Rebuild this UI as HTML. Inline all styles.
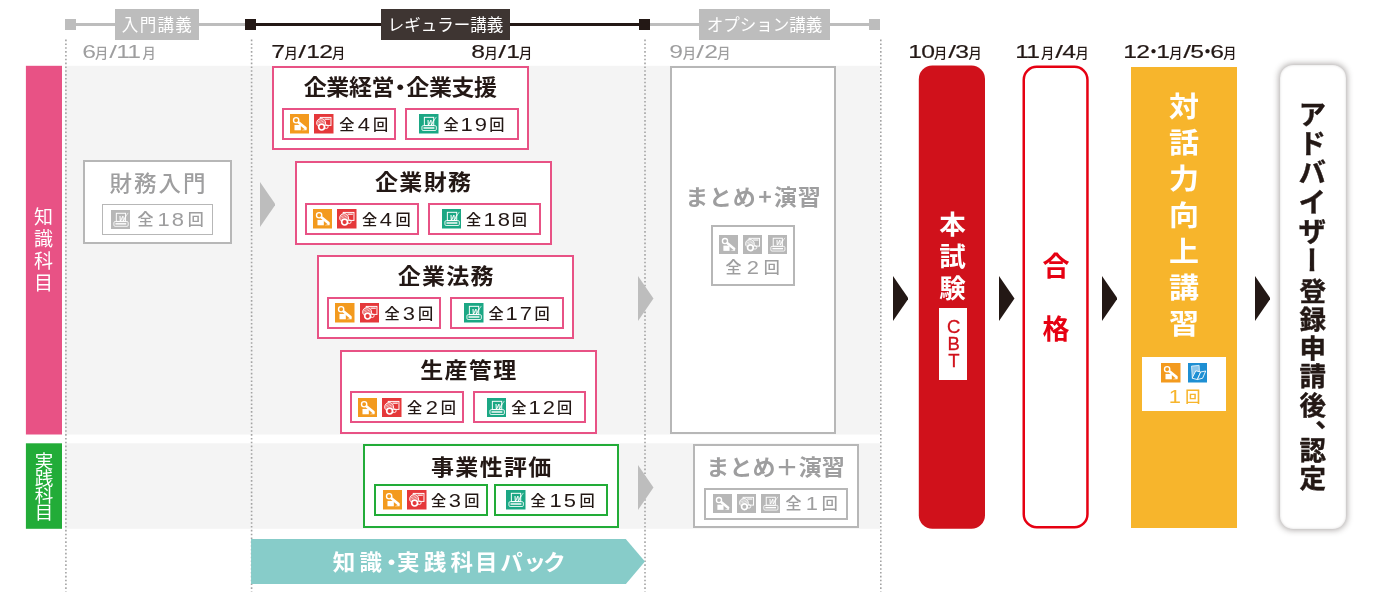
<!DOCTYPE html>
<html lang="ja"><head><meta charset="utf-8"><title></title>
<style>
*{margin:0;padding:0;box-sizing:border-box}
html,body{width:1380px;height:600px;background:#fff;overflow:hidden}
body{position:relative;font-family:"Liberation Sans","Noto Sans CJK JP",sans-serif;color:#231815}
div,span,svg{position:absolute}
.ic{display:block}
.side{color:#fff;font-family:"Noto Sans CJK JP",sans-serif;font-weight:400;writing-mode:vertical-rl;text-align:left;white-space:nowrap}
.tl{height:31px;top:9px;color:#fff;font-family:"Noto Sans CJK JP",sans-serif;font-weight:400;font-size:16.5px;line-height:31px;text-align:center;white-space:nowrap}
.sq{width:11px;height:11px;top:19px}
.ln{height:3.5px;top:22.6px}
.date{top:40px;height:24px;line-height:24px;font-size:19px;white-space:nowrap;display:flex;align-items:baseline}
.date>*{position:static;display:block;flex:none}
.date i{font-style:normal;font-family:"Noto Sans CJK JP",sans-serif;font-size:13.3px;font-weight:500;width:12px;text-indent:-.6px;text-align:center;-webkit-text-stroke:0}
.date .d{transform-origin:0 50%;transform:translateX(-.8px) scaleX(1.3);letter-spacing:-.57px}
.date .sl{width:9.5px;transform-origin:0 50%;transform:translateX(1.2px) scaleX(1.45)}
.date .dt{width:6.5px;font-family:"Noto Sans CJK JP",sans-serif;font-weight:700;font-size:17px;text-indent:-5.25px;-webkit-text-stroke:0}
.dk{color:#231815;-webkit-text-stroke:.18px #231815}
.gy{color:#9E9E9F}
.box{background:#fff;border:2px solid;width:257px;height:84px}
.ttl{left:0;right:0;text-align:center;font-family:"Noto Sans CJK JP",sans-serif;font-weight:700;font-size:23px;line-height:30px;white-space:nowrap;letter-spacing:1.3px;text-indent:1.3px;transform:scaleY(.945);transform-origin:50% 60%}
.ib{border:2px solid;background:#fff}
.cnt{font-family:"Liberation Sans","Noto Sans CJK JP",sans-serif;font-weight:500;font-size:15.2px;line-height:20px;height:20px;white-space:nowrap;display:flex;justify-content:space-between;align-items:center}
.cnt .d{position:static;display:inline-block;font-family:"Liberation Sans",sans-serif;font-weight:400;font-size:18px;transform:translateY(-.3px) scaleX(1.22);letter-spacing:1.8px;text-indent:1.8px}
.v{writing-mode:vertical-rl;font-family:"Noto Sans CJK JP",sans-serif;font-weight:700;white-space:nowrap;text-align:left}
</style></head><body><div id="stage" style="left:0;top:0;width:1380px;height:600px;will-change:transform">

<svg style="left:0;top:0;width:1380px;height:600px" viewBox="0 0 1380 600">
<rect x="65" y="65.8" width="815" height="368.7" fill="#F4F4F4"/>
<rect x="65" y="443.3" width="815" height="85.5" fill="#F4F4F4"/>
<rect x="25.9" y="65.8" width="36.1" height="368.7" fill="#E85285"/>
<rect x="25.9" y="443.3" width="36.1" height="85.5" fill="#22AC38"/>
<line x1="65.9" y1="39.6" x2="65.9" y2="591.5" stroke="#A3A3A3" stroke-width="1.6" stroke-dasharray="1.6 2.23"/>
<line x1="251.6" y1="39.6" x2="251.6" y2="591.5" stroke="#A3A3A3" stroke-width="1.6" stroke-dasharray="1.6 2.23"/>
<line x1="645" y1="39.6" x2="645" y2="591.5" stroke="#A3A3A3" stroke-width="1.6" stroke-dasharray="1.6 2.23"/>
<line x1="880.8" y1="39.6" x2="880.8" y2="591.5" stroke="#A3A3A3" stroke-width="1.6" stroke-dasharray="1.6 2.23"/>
</svg>
<div class="side" style="left:26px;width:35px;top:206.5px;font-size:19px;line-height:35px;letter-spacing:3.2px">知識科目</div>
<div class="side" style="left:26px;width:35px;top:452px;font-size:18.5px;line-height:35px;letter-spacing:-1.5px">実践科目</div>
<div class="ln" style="left:70px;width:180px;background:#BDBDBD"></div>
<div class="ln" style="left:250px;width:394px;background:#231815"></div>
<div class="ln" style="left:644px;width:230px;background:#BDBDBD"></div>
<div class="sq" style="left:65px;background:#BDBDBD"></div>
<div class="sq" style="left:245px;background:#231815"></div>
<div class="sq" style="left:638.7px;background:#231815"></div>
<div class="sq" style="left:868.8px;background:#BDBDBD"></div>
<div class="tl" style="left:114.7px;width:84.2px;background:#BDBDBD;letter-spacing:1.3px;text-indent:1.3px">入門講義</div>
<div class="tl" style="left:381px;width:129px;background:#3E3532">レギュラー講義</div>
<div class="tl" style="left:699.3px;width:130.4px;background:#BDBDBD">オプション講義</div>
<div class="date gy" style="left:82.7px;"><span class="d" style="width:13px">6</span><i>月</i><span class="sl">/</span><span class="d" style="width:26px">11</span><i>月</i></div>
<div class="date dk" style="left:272px;"><span class="d" style="width:13px">7</span><i>月</i><span class="sl">/</span><span class="d" style="width:26px">12</span><i>月</i></div>
<div class="date dk" style="left:472px;"><span class="d" style="width:13px">8</span><i>月</i><span class="sl">/</span><span class="d" style="width:13px">1</span><i>月</i></div>
<div class="date gy" style="left:670.4px;"><span class="d" style="width:13px">9</span><i>月</i><span class="sl">/</span><span class="d" style="width:13px">2</span><i>月</i></div>
<div class="date dk" style="left:908.6px;"><span class="d" style="width:26px">10</span><i>月</i><span class="sl">/</span><span class="d" style="width:13px">3</span><i>月</i></div>
<div class="date dk" style="left:1015.6px;"><span class="d" style="width:26px">11</span><i>月</i><span class="sl">/</span><span class="d" style="width:13px">4</span><i>月</i></div>
<div class="date dk" style="left:1124.3px; top:39px;"><span class="d" style="width:26px">12</span><span class="dt">・</span><span class="d" style="width:13px">1</span><i>月</i><span class="sl">/</span><span class="d" style="width:13px">5</span><span class="dt">・</span><span class="d" style="width:13px">6</span><i>月</i></div>
<div class="box" style="left:83px;top:160px;width:149px;height:84.3px;border-color:#B7B7B7"><div class="ttl" style="top:3.8px;color:#9E9E9F;font-weight:500;letter-spacing:2px;text-indent:2px;font-size:22.5px">財務入門</div><div class="ib" style="left:17px;top:41.7px;width:111px;height:31px;border:1px solid #B7B7B7"></div><svg class="ic" style="left:25.8px;top:47.7px;width:19.3px;height:19.3px" viewBox="0 0 20 20"><rect width="20" height="20" fill="#B7B7B7"/><rect x="5.5" y="3.4" width="9.6" height="8.4" fill="none" stroke="#fff" stroke-width="1"/><text x="8.3" y="11" font-family="'Liberation Sans',sans-serif" font-weight="700" font-style="italic" font-size="7.4" fill="#fff">W</text><path d="M14.6 7.6 L17.8 3" stroke="#fff" stroke-width=".7"/><rect x="3" y="12" width="14.8" height="4.9" rx="1.2" fill="none" stroke="#fff" stroke-width=".9"/><rect x="4.6" y="13.6" width="11.2" height="1.5" fill="#fff"/></svg><div class="cnt" style="left:52.6px;top:47.5px;width:66.2px;color:#9E9E9F;font-size:16px">全<span class="d d2">18</span>回</div></div>
<svg style="left:259.7px;top:182.2px;width:15.5px;height:45px" viewBox="0 0 15.5 45"><path d="M0 0 L15.5 22.5 L0 45 Z" fill="#BDBDBD"/></svg>
<svg style="left:638px;top:275.5px;width:15.5px;height:45px" viewBox="0 0 15.5 45"><path d="M0 0 L15.5 22.5 L0 45 Z" fill="#BDBDBD"/></svg>
<svg style="left:638px;top:465px;width:15.5px;height:45px" viewBox="0 0 15.5 45"><path d="M0 0 L15.5 22.5 L0 45 Z" fill="#BDBDBD"/></svg>
<svg style="left:892.7px;top:275.5px;width:15.5px;height:45px" viewBox="0 0 15.5 45"><path d="M0 0 L15.5 22.5 L0 45 Z" fill="#231815"/></svg>
<svg style="left:999px;top:275.5px;width:15.5px;height:45px" viewBox="0 0 15.5 45"><path d="M0 0 L15.5 22.5 L0 45 Z" fill="#231815"/></svg>
<svg style="left:1101.5px;top:275.5px;width:15.5px;height:45px" viewBox="0 0 15.5 45"><path d="M0 0 L15.5 22.5 L0 45 Z" fill="#231815"/></svg>
<svg style="left:1254.5px;top:275.5px;width:15.5px;height:45px" viewBox="0 0 15.5 45"><path d="M0 0 L15.5 22.5 L0 45 Z" fill="#231815"/></svg>
<div class="box" style="left:271.90px;top:66.0px;width:257px;border-color:#E85285"><div class="ttl" style="top:1.9px;letter-spacing:-.4px;text-indent:-.4px;">企業経営<span style="position:static;display:inline-block;width:12.2px;text-align:center;letter-spacing:0;text-indent:-5.4px">・</span>企業支援</div><div class="ib" style="left:8.4px;top:39.8px;width:113.8px;height:32px;border-color:#E85285"></div><div class="ib" style="left:131.2px;top:39.8px;width:113.6px;height:32px;border-color:#E85285"></div><svg class="ic" style="left:16px;top:46.099999999999994px;width:19.5px;height:19.5px" viewBox="0 0 20 20"><rect width="20" height="20" fill="#F39A1E"/><circle cx="6.3" cy="6.4" r="2.7" fill="none" stroke="#fff" stroke-width="1.4"/><path d="M8.9 8.8 L15.9 14.5" stroke="#fff" stroke-width="2.7" stroke-linecap="round" fill="none"/><rect x="4.6" y="11.2" width="6.5" height="5.5" fill="#fff"/><path d="M11.8 16.7 H17 L17 15.2 Z" fill="#fff"/></svg><svg class="ic" style="left:40.5px;top:46.099999999999994px;width:19.5px;height:19.5px" viewBox="0 0 20 20"><rect width="20" height="20" fill="#E5383A"/><rect x="6.4" y="3.5" width="11" height="8.2" fill="none" stroke="#fff" stroke-width="1"/><path d="M10.6 5.3 H16.2" stroke="#fff" stroke-width="1.2"/><circle cx="7.3" cy="9.2" r="5" fill="#E5383A"/><circle cx="7.3" cy="9.2" r="4.6" fill="#fff" fill-opacity=".35" stroke="#fff" stroke-width=".9"/><path d="M3.9 7.2 L10.8 11.4 M5.6 5.4 L12 10" stroke="#fff" stroke-width=".7" stroke-dasharray="1 .7"/><circle cx="7.8" cy="13.4" r="4.3" fill="#E5383A"/><circle cx="7.8" cy="13.4" r="3" fill="none" stroke="#fff" stroke-width="1.7"/><circle cx="12.6" cy="13" r="1.9" fill="none" stroke="#fff" stroke-width=".9"/></svg><svg class="ic" style="left:145.2px;top:46.099999999999994px;width:19.5px;height:19.5px" viewBox="0 0 20 20"><rect width="20" height="20" fill="#1BA784"/><rect x="5.5" y="3.4" width="9.6" height="8.4" fill="none" stroke="#fff" stroke-width="1"/><text x="8.3" y="11" font-family="'Liberation Sans',sans-serif" font-weight="700" font-style="italic" font-size="7.4" fill="#fff">W</text><path d="M14.6 7.6 L17.8 3" stroke="#fff" stroke-width=".7"/><rect x="3" y="12" width="14.8" height="4.9" rx="1.2" fill="none" stroke="#fff" stroke-width=".9"/><rect x="4.6" y="13.6" width="11.2" height="1.5" fill="#fff"/></svg><div class="cnt" style="left:65.4px;top:46.599999999999994px;width:48.8px">全<span class="d d1">4</span>回</div><div class="cnt" style="left:169.5px;top:46.599999999999994px;width:61px">全<span class="d d2">19</span>回</div></div>
<div class="box" style="left:294.50px;top:161.0px;width:257px;border-color:#E85285"><div class="ttl" style="top:1.9px;">企業財務</div><div class="ib" style="left:8.4px;top:39.8px;width:113.8px;height:32px;border-color:#E85285"></div><div class="ib" style="left:131.2px;top:39.8px;width:113.6px;height:32px;border-color:#E85285"></div><svg class="ic" style="left:16px;top:46.099999999999994px;width:19.5px;height:19.5px" viewBox="0 0 20 20"><rect width="20" height="20" fill="#F39A1E"/><circle cx="6.3" cy="6.4" r="2.7" fill="none" stroke="#fff" stroke-width="1.4"/><path d="M8.9 8.8 L15.9 14.5" stroke="#fff" stroke-width="2.7" stroke-linecap="round" fill="none"/><rect x="4.6" y="11.2" width="6.5" height="5.5" fill="#fff"/><path d="M11.8 16.7 H17 L17 15.2 Z" fill="#fff"/></svg><svg class="ic" style="left:40.5px;top:46.099999999999994px;width:19.5px;height:19.5px" viewBox="0 0 20 20"><rect width="20" height="20" fill="#E5383A"/><rect x="6.4" y="3.5" width="11" height="8.2" fill="none" stroke="#fff" stroke-width="1"/><path d="M10.6 5.3 H16.2" stroke="#fff" stroke-width="1.2"/><circle cx="7.3" cy="9.2" r="5" fill="#E5383A"/><circle cx="7.3" cy="9.2" r="4.6" fill="#fff" fill-opacity=".35" stroke="#fff" stroke-width=".9"/><path d="M3.9 7.2 L10.8 11.4 M5.6 5.4 L12 10" stroke="#fff" stroke-width=".7" stroke-dasharray="1 .7"/><circle cx="7.8" cy="13.4" r="4.3" fill="#E5383A"/><circle cx="7.8" cy="13.4" r="3" fill="none" stroke="#fff" stroke-width="1.7"/><circle cx="12.6" cy="13" r="1.9" fill="none" stroke="#fff" stroke-width=".9"/></svg><svg class="ic" style="left:145.2px;top:46.099999999999994px;width:19.5px;height:19.5px" viewBox="0 0 20 20"><rect width="20" height="20" fill="#1BA784"/><rect x="5.5" y="3.4" width="9.6" height="8.4" fill="none" stroke="#fff" stroke-width="1"/><text x="8.3" y="11" font-family="'Liberation Sans',sans-serif" font-weight="700" font-style="italic" font-size="7.4" fill="#fff">W</text><path d="M14.6 7.6 L17.8 3" stroke="#fff" stroke-width=".7"/><rect x="3" y="12" width="14.8" height="4.9" rx="1.2" fill="none" stroke="#fff" stroke-width=".9"/><rect x="4.6" y="13.6" width="11.2" height="1.5" fill="#fff"/></svg><div class="cnt" style="left:65.4px;top:46.599999999999994px;width:48.8px">全<span class="d d1">4</span>回</div><div class="cnt" style="left:169.5px;top:46.599999999999994px;width:61px">全<span class="d d2">18</span>回</div></div>
<div class="box" style="left:317.10px;top:255.0px;width:257px;border-color:#E85285"><div class="ttl" style="top:1.9px;">企業法務</div><div class="ib" style="left:8.4px;top:39.8px;width:113.8px;height:32px;border-color:#E85285"></div><div class="ib" style="left:131.2px;top:39.8px;width:113.6px;height:32px;border-color:#E85285"></div><svg class="ic" style="left:16px;top:46.099999999999994px;width:19.5px;height:19.5px" viewBox="0 0 20 20"><rect width="20" height="20" fill="#F39A1E"/><circle cx="6.3" cy="6.4" r="2.7" fill="none" stroke="#fff" stroke-width="1.4"/><path d="M8.9 8.8 L15.9 14.5" stroke="#fff" stroke-width="2.7" stroke-linecap="round" fill="none"/><rect x="4.6" y="11.2" width="6.5" height="5.5" fill="#fff"/><path d="M11.8 16.7 H17 L17 15.2 Z" fill="#fff"/></svg><svg class="ic" style="left:40.5px;top:46.099999999999994px;width:19.5px;height:19.5px" viewBox="0 0 20 20"><rect width="20" height="20" fill="#E5383A"/><rect x="6.4" y="3.5" width="11" height="8.2" fill="none" stroke="#fff" stroke-width="1"/><path d="M10.6 5.3 H16.2" stroke="#fff" stroke-width="1.2"/><circle cx="7.3" cy="9.2" r="5" fill="#E5383A"/><circle cx="7.3" cy="9.2" r="4.6" fill="#fff" fill-opacity=".35" stroke="#fff" stroke-width=".9"/><path d="M3.9 7.2 L10.8 11.4 M5.6 5.4 L12 10" stroke="#fff" stroke-width=".7" stroke-dasharray="1 .7"/><circle cx="7.8" cy="13.4" r="4.3" fill="#E5383A"/><circle cx="7.8" cy="13.4" r="3" fill="none" stroke="#fff" stroke-width="1.7"/><circle cx="12.6" cy="13" r="1.9" fill="none" stroke="#fff" stroke-width=".9"/></svg><svg class="ic" style="left:145.2px;top:46.099999999999994px;width:19.5px;height:19.5px" viewBox="0 0 20 20"><rect width="20" height="20" fill="#1BA784"/><rect x="5.5" y="3.4" width="9.6" height="8.4" fill="none" stroke="#fff" stroke-width="1"/><text x="8.3" y="11" font-family="'Liberation Sans',sans-serif" font-weight="700" font-style="italic" font-size="7.4" fill="#fff">W</text><path d="M14.6 7.6 L17.8 3" stroke="#fff" stroke-width=".7"/><rect x="3" y="12" width="14.8" height="4.9" rx="1.2" fill="none" stroke="#fff" stroke-width=".9"/><rect x="4.6" y="13.6" width="11.2" height="1.5" fill="#fff"/></svg><div class="cnt" style="left:65.4px;top:46.599999999999994px;width:48.8px">全<span class="d d1">3</span>回</div><div class="cnt" style="left:169.5px;top:46.599999999999994px;width:61px">全<span class="d d2">17</span>回</div></div>
<div class="box" style="left:339.70px;top:350.0px;width:257px;border-color:#E85285"><div class="ttl" style="top:1.2px;">生産管理</div><div class="ib" style="left:8.4px;top:39.2px;width:113.8px;height:32px;border-color:#E85285"></div><div class="ib" style="left:131.2px;top:39.2px;width:113.6px;height:32px;border-color:#E85285"></div><svg class="ic" style="left:16px;top:45.5px;width:19.5px;height:19.5px" viewBox="0 0 20 20"><rect width="20" height="20" fill="#F39A1E"/><circle cx="6.3" cy="6.4" r="2.7" fill="none" stroke="#fff" stroke-width="1.4"/><path d="M8.9 8.8 L15.9 14.5" stroke="#fff" stroke-width="2.7" stroke-linecap="round" fill="none"/><rect x="4.6" y="11.2" width="6.5" height="5.5" fill="#fff"/><path d="M11.8 16.7 H17 L17 15.2 Z" fill="#fff"/></svg><svg class="ic" style="left:40.5px;top:45.5px;width:19.5px;height:19.5px" viewBox="0 0 20 20"><rect width="20" height="20" fill="#E5383A"/><rect x="6.4" y="3.5" width="11" height="8.2" fill="none" stroke="#fff" stroke-width="1"/><path d="M10.6 5.3 H16.2" stroke="#fff" stroke-width="1.2"/><circle cx="7.3" cy="9.2" r="5" fill="#E5383A"/><circle cx="7.3" cy="9.2" r="4.6" fill="#fff" fill-opacity=".35" stroke="#fff" stroke-width=".9"/><path d="M3.9 7.2 L10.8 11.4 M5.6 5.4 L12 10" stroke="#fff" stroke-width=".7" stroke-dasharray="1 .7"/><circle cx="7.8" cy="13.4" r="4.3" fill="#E5383A"/><circle cx="7.8" cy="13.4" r="3" fill="none" stroke="#fff" stroke-width="1.7"/><circle cx="12.6" cy="13" r="1.9" fill="none" stroke="#fff" stroke-width=".9"/></svg><svg class="ic" style="left:145.2px;top:45.5px;width:19.5px;height:19.5px" viewBox="0 0 20 20"><rect width="20" height="20" fill="#1BA784"/><rect x="5.5" y="3.4" width="9.6" height="8.4" fill="none" stroke="#fff" stroke-width="1"/><text x="8.3" y="11" font-family="'Liberation Sans',sans-serif" font-weight="700" font-style="italic" font-size="7.4" fill="#fff">W</text><path d="M14.6 7.6 L17.8 3" stroke="#fff" stroke-width=".7"/><rect x="3" y="12" width="14.8" height="4.9" rx="1.2" fill="none" stroke="#fff" stroke-width=".9"/><rect x="4.6" y="13.6" width="11.2" height="1.5" fill="#fff"/></svg><div class="cnt" style="left:65.4px;top:46.0px;width:48.8px">全<span class="d d1">2</span>回</div><div class="cnt" style="left:169.5px;top:46.0px;width:61px">全<span class="d d2">12</span>回</div></div>
<div class="box" style="left:363.00px;top:444.0px;width:256.3px;border-color:#22AC38"><div class="ttl" style="top:4.0px;">事業性評価</div><div class="ib" style="left:9.2px;top:37.7px;width:113.8px;height:32px;border-color:#22AC38"></div><div class="ib" style="left:129.3px;top:37.7px;width:113.6px;height:32px;border-color:#22AC38"></div><svg class="ic" style="left:17.8px;top:44.0px;width:19.5px;height:19.5px" viewBox="0 0 20 20"><rect width="20" height="20" fill="#F39A1E"/><circle cx="6.3" cy="6.4" r="2.7" fill="none" stroke="#fff" stroke-width="1.4"/><path d="M8.9 8.8 L15.9 14.5" stroke="#fff" stroke-width="2.7" stroke-linecap="round" fill="none"/><rect x="4.6" y="11.2" width="6.5" height="5.5" fill="#fff"/><path d="M11.8 16.7 H17 L17 15.2 Z" fill="#fff"/></svg><svg class="ic" style="left:42px;top:44.0px;width:19.5px;height:19.5px" viewBox="0 0 20 20"><rect width="20" height="20" fill="#E5383A"/><rect x="6.4" y="3.5" width="11" height="8.2" fill="none" stroke="#fff" stroke-width="1"/><path d="M10.6 5.3 H16.2" stroke="#fff" stroke-width="1.2"/><circle cx="7.3" cy="9.2" r="5" fill="#E5383A"/><circle cx="7.3" cy="9.2" r="4.6" fill="#fff" fill-opacity=".35" stroke="#fff" stroke-width=".9"/><path d="M3.9 7.2 L10.8 11.4 M5.6 5.4 L12 10" stroke="#fff" stroke-width=".7" stroke-dasharray="1 .7"/><circle cx="7.8" cy="13.4" r="4.3" fill="#E5383A"/><circle cx="7.8" cy="13.4" r="3" fill="none" stroke="#fff" stroke-width="1.7"/><circle cx="12.6" cy="13" r="1.9" fill="none" stroke="#fff" stroke-width=".9"/></svg><svg class="ic" style="left:141.3px;top:44.0px;width:19.5px;height:19.5px" viewBox="0 0 20 20"><rect width="20" height="20" fill="#1BA784"/><rect x="5.5" y="3.4" width="9.6" height="8.4" fill="none" stroke="#fff" stroke-width="1"/><text x="8.3" y="11" font-family="'Liberation Sans',sans-serif" font-weight="700" font-style="italic" font-size="7.4" fill="#fff">W</text><path d="M14.6 7.6 L17.8 3" stroke="#fff" stroke-width=".7"/><rect x="3" y="12" width="14.8" height="4.9" rx="1.2" fill="none" stroke="#fff" stroke-width=".9"/><rect x="4.6" y="13.6" width="11.2" height="1.5" fill="#fff"/></svg><div class="cnt" style="left:66.1px;top:44.5px;width:48.4px">全<span class="d d1">3</span>回</div><div class="cnt" style="left:165.6px;top:44.5px;width:64.2px">全<span class="d d2">15</span>回</div></div>
<div class="box" style="left:670px;top:66px;width:166px;height:367.6px;border-color:#B7B7B7"><div class="ttl" style="top:112.2px;color:#9E9E9F;font-weight:700;font-size:23px;letter-spacing:.8px;text-indent:.8px">まとめ<span style="position:static;margin:0 1.4px 0 1.6px">+</span>演習</div><div class="ib" style="left:39.2px;top:157px;width:83.6px;height:60.6px;border:2px solid #B7B7B7"></div><svg class="ic" style="left:47px;top:167px;width:19px;height:19px" viewBox="0 0 20 20"><rect width="20" height="20" fill="#B7B7B7"/><circle cx="6.3" cy="6.4" r="2.7" fill="none" stroke="#fff" stroke-width="1.4"/><path d="M8.9 8.8 L15.9 14.5" stroke="#fff" stroke-width="2.7" stroke-linecap="round" fill="none"/><rect x="4.6" y="11.2" width="6.5" height="5.5" fill="#fff"/><path d="M11.8 16.7 H17 L17 15.2 Z" fill="#fff"/></svg><svg class="ic" style="left:71.3px;top:167px;width:19px;height:19px" viewBox="0 0 20 20"><rect width="20" height="20" fill="#B7B7B7"/><rect x="6.4" y="3.5" width="11" height="8.2" fill="none" stroke="#fff" stroke-width="1"/><path d="M10.6 5.3 H16.2" stroke="#fff" stroke-width="1.2"/><circle cx="7.3" cy="9.2" r="5" fill="#B7B7B7"/><circle cx="7.3" cy="9.2" r="4.6" fill="#fff" fill-opacity=".35" stroke="#fff" stroke-width=".9"/><path d="M3.9 7.2 L10.8 11.4 M5.6 5.4 L12 10" stroke="#fff" stroke-width=".7" stroke-dasharray="1 .7"/><circle cx="7.8" cy="13.4" r="4.3" fill="#B7B7B7"/><circle cx="7.8" cy="13.4" r="3" fill="none" stroke="#fff" stroke-width="1.7"/><circle cx="12.6" cy="13" r="1.9" fill="none" stroke="#fff" stroke-width=".9"/></svg><svg class="ic" style="left:95.5px;top:167px;width:19px;height:19px" viewBox="0 0 20 20"><rect width="20" height="20" fill="#B7B7B7"/><rect x="5.5" y="3.4" width="9.6" height="8.4" fill="none" stroke="#fff" stroke-width="1"/><text x="8.3" y="11" font-family="'Liberation Sans',sans-serif" font-weight="700" font-style="italic" font-size="7.4" fill="#fff">W</text><path d="M14.6 7.6 L17.8 3" stroke="#fff" stroke-width=".7"/><rect x="3" y="12" width="14.8" height="4.9" rx="1.2" fill="none" stroke="#fff" stroke-width=".9"/><rect x="4.6" y="13.6" width="11.2" height="1.5" fill="#fff"/></svg><div class="cnt" style="left:53.6px;top:190px;width:54.2px;color:#9E9E9F;font-size:16px">全<span class="d d1">2</span>回</div></div>
<div class="box" style="left:692.6px;top:444.4px;width:166px;height:84px;border-color:#B7B7B7"><div class="ttl" style="top:3.9px;color:#9E9E9F;font-weight:700;font-size:23px;letter-spacing:.1px;text-indent:0">まとめ＋演習</div><div class="ib" style="left:9px;top:41.6px;width:144px;height:31.6px;border:2px solid #B7B7B7"></div><svg class="ic" style="left:18.4px;top:47.6px;width:19px;height:19px" viewBox="0 0 20 20"><rect width="20" height="20" fill="#B7B7B7"/><circle cx="6.3" cy="6.4" r="2.7" fill="none" stroke="#fff" stroke-width="1.4"/><path d="M8.9 8.8 L15.9 14.5" stroke="#fff" stroke-width="2.7" stroke-linecap="round" fill="none"/><rect x="4.6" y="11.2" width="6.5" height="5.5" fill="#fff"/><path d="M11.8 16.7 H17 L17 15.2 Z" fill="#fff"/></svg><svg class="ic" style="left:42.6px;top:47.6px;width:19px;height:19px" viewBox="0 0 20 20"><rect width="20" height="20" fill="#B7B7B7"/><rect x="6.4" y="3.5" width="11" height="8.2" fill="none" stroke="#fff" stroke-width="1"/><path d="M10.6 5.3 H16.2" stroke="#fff" stroke-width="1.2"/><circle cx="7.3" cy="9.2" r="5" fill="#B7B7B7"/><circle cx="7.3" cy="9.2" r="4.6" fill="#fff" fill-opacity=".35" stroke="#fff" stroke-width=".9"/><path d="M3.9 7.2 L10.8 11.4 M5.6 5.4 L12 10" stroke="#fff" stroke-width=".7" stroke-dasharray="1 .7"/><circle cx="7.8" cy="13.4" r="4.3" fill="#B7B7B7"/><circle cx="7.8" cy="13.4" r="3" fill="none" stroke="#fff" stroke-width="1.7"/><circle cx="12.6" cy="13" r="1.9" fill="none" stroke="#fff" stroke-width=".9"/></svg><svg class="ic" style="left:66.8px;top:47.6px;width:19px;height:19px" viewBox="0 0 20 20"><rect width="20" height="20" fill="#B7B7B7"/><rect x="5.5" y="3.4" width="9.6" height="8.4" fill="none" stroke="#fff" stroke-width="1"/><text x="8.3" y="11" font-family="'Liberation Sans',sans-serif" font-weight="700" font-style="italic" font-size="7.4" fill="#fff">W</text><path d="M14.6 7.6 L17.8 3" stroke="#fff" stroke-width=".7"/><rect x="3" y="12" width="14.8" height="4.9" rx="1.2" fill="none" stroke="#fff" stroke-width=".9"/><rect x="4.6" y="13.6" width="11.2" height="1.5" fill="#fff"/></svg><div class="cnt" style="left:91px;top:47.4px;width:52.2px;color:#9E9E9F;font-size:16px">全<span class="d d1">1</span>回</div></div>
<svg style="left:251px;top:539.3px;width:394px;height:45.2px" viewBox="0 0 394 45.2"><path d="M0 0 H374.8 L394 22.6 L374.8 45.2 H0 Z" fill="#87CCC9"/></svg>
<div class="ttl" style="left:332.7px;top:545.4px;width:250px;right:auto;text-align:left;text-indent:0;color:#fff;font-size:22.5px;letter-spacing:4.2px">知識<span style="position:static;display:inline-block;width:11px;text-indent:-5.8px;letter-spacing:0">・</span>実践科<span style="position:static;margin-left:-2.2px;letter-spacing:2.6px">目</span><span style="position:static;letter-spacing:.8px">パ</span><span style="position:static;letter-spacing:-2.6px">ッ</span>ク</div>
<svg style="left:916px;top:63px;width:72px;height:468px" viewBox="0 0 72 468"><rect x="2.8" y="2.5" width="66.2" height="463.3" rx="13.5" fill="#D0111B"/></svg>
<div class="v" style="left:919px;top:211px;width:66px;line-height:66px;font-size:26.5px;letter-spacing:5.2px;color:#fff">本試験</div>
<div style="left:938.7px;top:307.7px;width:28.6px;height:72.3px;background:#fff"></div>
<div class="v" style="left:938.7px;top:316px;width:28.6px;line-height:28.6px;font-family:'Liberation Sans',sans-serif;font-weight:400;font-size:18.5px;letter-spacing:-3.8px;color:#D0111B;-webkit-text-stroke:.3px #D0111B;text-orientation:upright">CBT</div>
<svg style="left:1020px;top:63px;width:72px;height:468px" viewBox="0 0 72 468"><rect x="3.75" y="3.85" width="63.7" height="460.4" rx="13" fill="#fff" stroke="#E60012" stroke-width="2.5"/></svg>
<div class="v" style="left:1022.5px;top:251.5px;width:66px;line-height:66px;font-size:27px;letter-spacing:36.4px;color:#E60012">合格</div>
<div style="left:1131px;top:67px;width:106px;height:461px;background:#F7B52C"></div>
<div class="v" style="left:1131px;top:91.8px;width:106px;line-height:106px;font-size:30px;letter-spacing:8.4px;color:#fff;transform:scaleY(.943);transform-origin:50% 0">対話力向上講習</div>
<div style="left:1142px;top:356.8px;width:84.2px;height:54.4px;background:#fff"></div>
<svg class="ic" style="left:1161px;top:363.3px;width:19.5px;height:19.5px" viewBox="0 0 20 20"><rect width="20" height="20" fill="#F39A1E"/><circle cx="6.3" cy="6.4" r="2.7" fill="none" stroke="#fff" stroke-width="1.4"/><path d="M8.9 8.8 L15.9 14.5" stroke="#fff" stroke-width="2.7" stroke-linecap="round" fill="none"/><rect x="4.6" y="11.2" width="6.5" height="5.5" fill="#fff"/><path d="M11.8 16.7 H17 L17 15.2 Z" fill="#fff"/></svg><svg class="ic" style="left:1187.8px;top:363.3px;width:19.5px;height:19.5px" viewBox="0 0 20 20"><rect width="20" height="20" fill="#1E8FD3"/><path d="M3.6 3.2 L11.4 2.4 L12 13.6 L4.4 15.2 Z" fill="#8cc6ea" stroke="#fff" stroke-width=".7"/><path d="M4.2 15.6 L8 8 L13 9.2 L9.6 17 Z" fill="#1E8FD3" stroke="#fff" stroke-width=".9" stroke-linejoin="round"/><path d="M9.6 17 L13 9.2 L18.2 8.2 L15 15.6 Z" fill="#1E8FD3" stroke="#fff" stroke-width=".9" stroke-linejoin="round"/></svg>
<div class="cnt" style="left:1168px;top:387px;width:32.4px;color:#F7B52C;justify-content:space-between"><span class="d d1">1</span>回</div>
<div style="left:1280px;top:65.3px;width:66px;height:463.5px;border-radius:13px;background:#fff;box-shadow:0 0 6px .5px rgba(35,24,21,.38),inset 0 0 2.5px rgba(35,24,21,.18)"></div>
<div class="v" style="-webkit-text-stroke:.4px #231815;left:1279.2px;top:99.6px;width:66px;line-height:66px;font-size:26.5px;letter-spacing:2px;color:#231815"><span style="position:static;font-size:28px;letter-spacing:1.3px;margin-inline-end:1.6px">アドバイザー</span>登録申請後<span style="position:static;display:inline-block;height:16.5px;line-height:66px;letter-spacing:0">、</span>認定</div>
</div></body></html>
